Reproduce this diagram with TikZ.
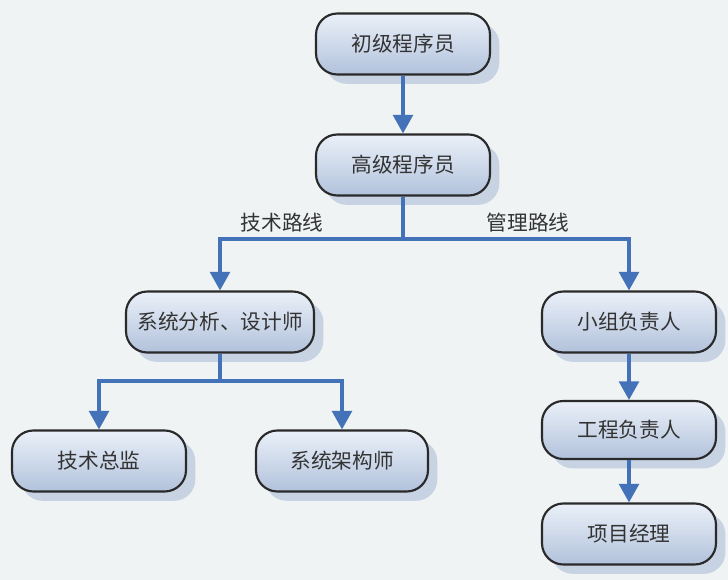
\documentclass[tikz,border=0pt]{standalone}
\usepackage{fontspec}
\newfontfamily\cjk{Noto Sans CJK SC}
\usetikzlibrary{arrows.meta,shadows}
\definecolor{bgcol}{HTML}{EFF3F3}
\definecolor{topcol}{HTML}{EAF0F8}
\definecolor{botcol}{HTML}{B2C2DC}
\definecolor{shadcol}{HTML}{C3CFE2}
\definecolor{edgecol}{HTML}{4472B8}
\definecolor{txtcol}{HTML}{333333}
\definecolor{bordcol}{HTML}{2A2A2A}
\tikzset{
  role/.style={draw=bordcol, line width=1.6pt, rounded corners=16pt,
    top color=topcol, bottom color=botcol,
    minimum width=130.5pt, minimum height=45.75pt, inner sep=0pt,
    text=txtcol, font=\cjk\fontsize{15.5}{18}\selectfont,
    drop shadow={shadow xshift=7pt, shadow yshift=-7pt, fill=shadcol, opacity=0.9}},
  link/.style={draw=edgecol, line width=2.3pt,
    -{Triangle[length=14pt,width=15pt]}},
  routelabel/.style={text=txtcol, font=\cjk\fontsize{15.5}{18}\selectfont, inner sep=0pt}
}
\begin{document}
\begin{tikzpicture}[x=0.75pt,y=-0.75pt]
\path[use as bounding box, fill=bgcol] (0,0) rectangle (728,580);
\node[role] (junior) at (403,44) {初级程序员};
\node[role] (senior) at (403,165) {高级程序员};
\node[role, minimum width=141pt] (analyst) at (220,322) {系统分析、设计师};
\node[role] (lead) at (629,322) {小组负责人};
\node[role] (cto) at (99,461) {技术总监};
\node[role, minimum width=129pt] (arch) at (342,461) {系统架构师};
\node[role, minimum height=43.5pt] (eng) at (629,430) {工程负责人};
\node[role] (pm) at (629,534) {项目经理};
\coordinate (j1) at (403,239);
\coordinate (j2) at (220,381);
\draw[link] (junior) -- (senior);
\draw[link] (senior.south) -- (j1) -| (analyst.north);
\draw[link] (j1) -| (lead.north);
\draw[link] (analyst.south) -- (j2) -| (cto.north);
\draw[link] (j2) -| (arch.north);
\draw[link] (lead) -- (eng);
\draw[link] (eng) -- (pm);
\node[routelabel] (tech) at (282,223) {技术路线};
\node[routelabel] (mgmt) at (528,223) {管理路线};
\end{tikzpicture}
\end{document}
